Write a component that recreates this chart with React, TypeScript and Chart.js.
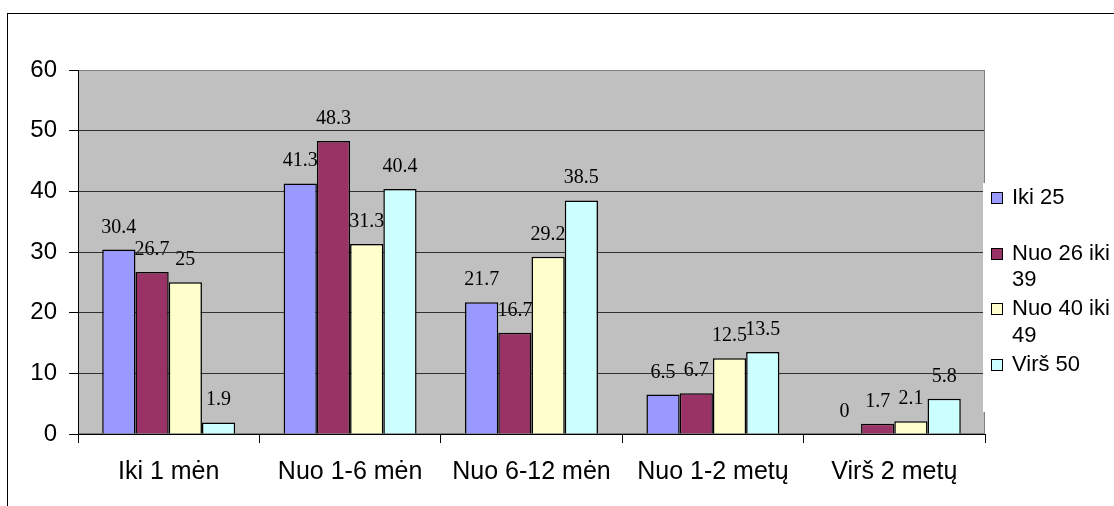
import React, { useEffect, useRef } from 'react';
import { Chart, registerables } from 'chart.js';

Chart.register(...registerables);

// Categories (time periods) and series (age groups)
const categories = ['Iki 1 mėn', 'Nuo 1-6 mėn', 'Nuo 6-12 mėn', 'Nuo 1-2 metų', 'Virš 2 metų'];
const seriesNames = ['Iki 25', 'Nuo 26 iki 39', 'Nuo 40 iki 49', 'Virš 50'];
const iki25 = [30.4, 41.3, 21.7, 6.5, 0];
const nuo26iki39 = [26.7, 48.3, 16.7, 6.7, 1.7];
const nuo40iki49 = [25, 31.3, 29.2, 12.5, 2.1];
const virs50 = [1.9, 40.4, 38.5, 13.5, 5.8];
const seriesColors = ['#9999FF', '#993366', '#FFFFCC', '#CCFFFF'];
const yTicks = [0, 10, 20, 30, 40, 50, 60];

const seriesValues = [iki25, nuo26iki39, nuo40iki49, virs50];

const SANS = '"Liberation Sans", Arial, sans-serif';
const SERIF = '"Liberation Serif", "Times New Roman", serif';

// Page background, outer frame, grey plot area and value labels (drawn beneath grid and bars)
const backdrop = {
  id: 'backdrop',
  beforeDraw(chart: any) {
    const { ctx, chartArea: a, width, height } = chart;
    ctx.save();
    ctx.fillStyle = '#ffffff';
    ctx.fillRect(0, 0, width, height);
    ctx.strokeStyle = '#000000';
    ctx.lineWidth = 1;
    ctx.strokeRect(7.5, 13.5, width + 100, height + 100);

    ctx.fillStyle = '#C0C0C0';
    ctx.fillRect(a.left, a.top, a.right - a.left, a.bottom - a.top);
    ctx.strokeStyle = '#808080';
    ctx.strokeRect(a.left + 0.5, a.top + 0.5, a.right - a.left - 1, a.bottom - a.top - 1);

    ctx.font = `20px ${SERIF}`;
    ctx.fillStyle = '#000000';
    ctx.textAlign = 'center';
    ctx.textBaseline = 'alphabetic';
    chart.data.datasets.forEach((ds: any, i: number) => {
      const meta = chart.getDatasetMeta(i);
      meta.data.forEach((bar: any, j: number) => {
        const { x, y } = bar.getProps(['x', 'y'], true);
        ctx.fillText(String(ds.data[j]), x, y - 17);
      });
    });
    ctx.restore();
  },
};

function wrapText(ctx: CanvasRenderingContext2D, text: string, maxWidth: number): string[] {
  const words = text.split(' ');
  const lines: string[] = [];
  let line = '';
  for (const w of words) {
    const test = line ? line + ' ' + w : w;
    if (line && ctx.measureText(test).width > maxWidth) {
      lines.push(line);
      line = w;
    } else {
      line = test;
    }
  }
  if (line) lines.push(line);
  return lines;
}

// Legend box on the right, overlapping the plot edge
const sideLegend = {
  id: 'sideLegend',
  afterDraw(chart: any) {
    const { ctx, chartArea: a, width } = chart;
    ctx.save();
    ctx.strokeStyle = '#808080';
    ctx.lineWidth = 1;
    ctx.beginPath();
    ctx.moveTo(a.right - 0.5, a.top);
    ctx.lineTo(a.right - 0.5, a.bottom);
    ctx.stroke();

    const boxTop = 183;
    const boxHeight = 229;
    ctx.fillStyle = '#ffffff';
    ctx.fillRect(a.right - 2, boxTop, width - a.right + 2, boxHeight);

    ctx.font = `22px ${SANS}`;
    ctx.textAlign = 'left';
    ctx.textBaseline = 'middle';
    const textX = a.right + 27;
    const maxW = width - textX - 2;
    chart.data.datasets.forEach((ds: any, i: number) => {
      const cy = 198 + i * 55.7;
      const sq = Math.round(cy) - 6;
      ctx.fillStyle = ds.backgroundColor;
      ctx.fillRect(a.right + 6, sq, 12, 12);
      ctx.strokeStyle = '#000000';
      ctx.strokeRect(a.right + 6.5, sq + 0.5, 11, 11);
      ctx.fillStyle = '#000000';
      wrapText(ctx, ds.label, maxW).forEach((t, k) => {
        ctx.fillText(t, textX, cy + k * 26.5);
      });
    });
    ctx.restore();
  },
};

export default function App() {
  const canvasRef = useRef<HTMLCanvasElement>(null);

  useEffect(() => {
    const canvas = canvasRef.current;
    if (!canvas) return;
    const chart = new Chart(canvas, {
      type: 'bar',
      data: {
        labels: categories,
        datasets: seriesNames.map((name, i) => ({
          label: name,
          data: seriesValues[i],
          backgroundColor: seriesColors[i],
          borderColor: '#000000',
          borderWidth: 1.5,
          barPercentage: 1,
          categoryPercentage: 0.733,
        })),
      },
      options: {
        animation: false,
        responsive: false,
        devicePixelRatio: 1,
        events: [],
        layout: { padding: { top: 70, right: 129, left: 0, bottom: 0 } },
        plugins: {
          legend: { display: false },
          tooltip: { enabled: false },
          title: { display: false },
        },
        scales: {
          x: {
            offset: true,
            afterFit: (s: any) => {
              s.height = 72;
            },
            grid: {
              drawOnChartArea: false,
              drawTicks: true,
              tickLength: 9,
              tickColor: '#000000',
              offset: true,
            },
            border: { color: '#000000', width: 1 },
            ticks: {
              color: '#000000',
              font: { family: SANS, size: 25 },
              padding: 14,
              maxRotation: 0,
              autoSkip: false,
            },
          },
          y: {
            min: yTicks[0],
            max: yTicks[yTicks.length - 1],
            afterFit: (s: any) => {
              s.width = 78;
            },
            grid: {
              color: (c: any) => (c.tick && c.tick.value === yTicks[yTicks.length - 1] ? '#808080' : '#303030'),
              tickColor: '#000000',
              tickLength: 9,
              lineWidth: 1,
            },
            border: { color: '#000000', width: 1 },
            ticks: {
              stepSize: yTicks[1] - yTicks[0],
              color: '#000000',
              font: { family: SANS, size: 24 },
              padding: 12,
            },
          },
        },
      },
      plugins: [backdrop, sideLegend],
    });
    return () => chart.destroy();
  }, []);

  return (
    <div style={{ position: 'fixed', left: 0, top: 0, width: 1114, height: 506, background: '#ffffff', overflow: 'hidden' }}>
      <canvas ref={canvasRef} width={1114} height={506} style={{ display: 'block', width: 1114, height: 506 }} />
    </div>
  );
}
